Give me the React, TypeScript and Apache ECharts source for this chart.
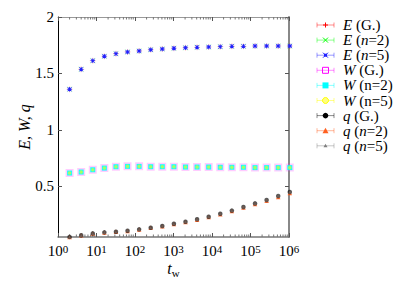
import React, { useEffect, useRef } from "react";
import * as echarts from "echarts";

const tw = [2, 4, 8, 16, 32, 64, 128, 256, 512, 1024, 2048, 4096, 8192, 16384, 32768, 65536, 131072, 262144, 524288, 1048576];

const E_G = [1.359, 1.536, 1.613, 1.652, 1.675, 1.690, 1.699, 1.710, 1.716, 1.723, 1.728, 1.731, 1.734, 1.737, 1.740, 1.740, 1.743, 1.743, 1.743, 1.743];
const E_n2 = [1.359, 1.536, 1.613, 1.652, 1.675, 1.690, 1.699, 1.710, 1.716, 1.723, 1.728, 1.731, 1.734, 1.737, 1.740, 1.740, 1.743, 1.743, 1.743, 1.743];
const E_n5 = [1.359, 1.536, 1.613, 1.652, 1.675, 1.690, 1.699, 1.710, 1.716, 1.723, 1.728, 1.731, 1.734, 1.737, 1.740, 1.740, 1.743, 1.743, 1.743, 1.743];

const W_G = [0.617, 0.626, 0.646, 0.661, 0.673, 0.676, 0.676, 0.673, 0.673, 0.673, 0.670, 0.670, 0.670, 0.668, 0.668, 0.668, 0.665, 0.665, 0.665, 0.665];
const W_n2 = [0.617, 0.626, 0.646, 0.661, 0.673, 0.676, 0.676, 0.673, 0.673, 0.673, 0.670, 0.670, 0.670, 0.668, 0.668, 0.668, 0.665, 0.665, 0.665, 0.665];
const W_n5 = [0.617, 0.626, 0.646, 0.661, 0.673, 0.676, 0.676, 0.673, 0.673, 0.673, 0.670, 0.670, 0.670, 0.668, 0.668, 0.668, 0.665, 0.665, 0.665, 0.665];

const q_G = [0.051, 0.066, 0.082, 0.091, 0.097, 0.105, 0.118, 0.132, 0.147, 0.168, 0.185, 0.207, 0.230, 0.256, 0.284, 0.316, 0.348, 0.378, 0.413, 0.449];
const q_n2 = [0.051, 0.066, 0.081, 0.090, 0.096, 0.104, 0.117, 0.131, 0.146, 0.166, 0.183, 0.204, 0.227, 0.252, 0.280, 0.311, 0.342, 0.371, 0.405, 0.440];
const q_n5 = [0.051, 0.066, 0.082, 0.091, 0.097, 0.105, 0.118, 0.132, 0.147, 0.168, 0.185, 0.207, 0.230, 0.256, 0.284, 0.316, 0.348, 0.378, 0.413, 0.449];

const xMajorTicks = [1, 10, 100, 1000, 10000, 100000, 1000000];
const xMinorTicks = [
  2, 3, 4, 5, 6, 7, 8, 9,
  20, 30, 40, 50, 60, 70, 80, 90,
  200, 300, 400, 500, 600, 700, 800, 900,
  2000, 3000, 4000, 5000, 6000, 7000, 8000, 9000,
  20000, 30000, 40000, 50000, 60000, 70000, 80000, 90000,
  200000, 300000, 400000, 500000, 600000, 700000, 800000, 900000,
];
const yTicks = [0.5, 1, 1.5, 2];
const Y_MIN = 0.05;
const Y_MAX = 2;

const legendLabels = [
  "{i|E} (G.)",
  "{i|E} ({i|n}=2)",
  "{i|E} ({i|n}=5)",
  "{i|W} (G.)",
  "{i|W} (n=2)",
  "{i|W} (n=5)",
  "{i|q} (G.)",
  "{i|q} ({i|n}=2)",
  "{i|q} ({i|n}=5)",
];

const FONT = "Liberation Serif, Times New Roman, serif";

const PLUS = "path://M4,0h2v10h-2z M0,4h10v2h-10z";
const CROSS = "path://M1,0L5,4L9,0L10,1L6,5L10,9L9,10L5,6L1,10L0,9L4,5L0,1z";
const STAR = "path://M4,0h2v10h-2z M0,4h10v2h-10z M1,0L5,4L9,0L10,1L6,5L10,9L9,10L5,6L1,10L0,9L4,5L0,1z";

type SDef = { name: string; data: number[]; color: string; symbol: string; size: number; opacity: number; z: number; legend: string };

const seriesDefs: SDef[] = [
  { name: "E (G.)", data: E_G, color: "#ff0000", symbol: PLUS, size: 6, opacity: 0.2, z: 2, legend: "plus" },
  { name: "E (n=2)", data: E_n2, color: "#00ff00", symbol: CROSS, size: 6, opacity: 0.2, z: 2, legend: "cross" },
  { name: "E (n=5)", data: E_n5, color: "#2020ff", symbol: STAR, size: 4.5, opacity: 1, z: 3, legend: "star" },
  { name: "W (G.)", data: W_G, color: "#ff00ff", symbol: "emptyRect", size: 6, opacity: 0.2, z: 2, legend: "emptyRect" },
  { name: "W (n=2)", data: W_n2, color: "#00ffff", symbol: "rect", size: 5, opacity: 0.9, z: 2, legend: "rect" },
  { name: "W (n=5)", data: W_n5, color: "#ffff00", symbol: "circle", size: 3.5, opacity: 0.6, z: 3, legend: "circle" },
  { name: "q (G.)", data: q_G, color: "#000000", symbol: "circle", size: 4.5, opacity: 0.65, z: 3, legend: "fcircle" },
  { name: "q (n=2)", data: q_n2, color: "#ff6020", symbol: "triangle", size: 4.5, opacity: 0.9, z: 2, legend: "triangle" },
  { name: "q (n=5)", data: q_n5, color: "#808080", symbol: "triangle", size: 3.5, opacity: 0.6, z: 4, legend: "striangle" },
];

function legendMarker(kind: string, cx: number, cy: number, color: string): any[] {
  const s = { stroke: color, lineWidth: 1 };
  switch (kind) {
    case "plus":
      return [
        { type: "line", shape: { x1: cx - 2.5, y1: cy, x2: cx + 2.5, y2: cy }, style: s },
        { type: "line", shape: { x1: cx, y1: cy - 2.5, x2: cx, y2: cy + 2.5 }, style: s },
      ];
    case "cross":
      return [
        { type: "line", shape: { x1: cx - 2.5, y1: cy - 2.5, x2: cx + 2.5, y2: cy + 2.5 }, style: s },
        { type: "line", shape: { x1: cx - 2.5, y1: cy + 2.5, x2: cx + 2.5, y2: cy - 2.5 }, style: s },
      ];
    case "star":
      return [
        { type: "line", shape: { x1: cx - 2.5, y1: cy - 2.5, x2: cx + 2.5, y2: cy + 2.5 }, style: s },
        { type: "line", shape: { x1: cx - 2.5, y1: cy + 2.5, x2: cx + 2.5, y2: cy - 2.5 }, style: s },
        { type: "rect", shape: { x: cx - 1.5, y: cy - 1.5, width: 3, height: 3 }, style: { fill: color } },
      ];
    case "emptyRect":
      return [{ type: "rect", shape: { x: cx - 3, y: cy - 3, width: 6, height: 6 }, style: { fill: "none", stroke: color, lineWidth: 1 } }];
    case "rect":
      return [{ type: "rect", shape: { x: cx - 3, y: cy - 3, width: 6, height: 6 }, style: { fill: color } }];
    case "circle":
      return [{ type: "circle", shape: { cx, cy, r: 3 }, style: { fill: "#ffff80", stroke: color, lineWidth: 1 } }];
    case "fcircle":
      return [{ type: "circle", shape: { cx, cy, r: 2.8 }, style: { fill: color } }];
    case "triangle":
      return [{ type: "polygon", shape: { points: [[cx, cy - 3], [cx + 3, cy + 2.5], [cx - 3, cy + 2.5]] }, style: { fill: color } }];
    case "striangle":
      return [{ type: "polygon", shape: { points: [[cx, cy - 2], [cx + 2, cy + 1.5], [cx - 2, cy + 1.5]] }, style: { fill: color } }];
  }
  return [];
}

export default function App() {
  const ref = useRef<HTMLDivElement>(null);
  useEffect(() => {
    if (!ref.current) return;
    const chart = echarts.init(ref.current, undefined, { renderer: "svg" });

    const LX1 = 317, LX2 = 334, LTX = 343, LY0 = 25, LDY = 15.1;
    const legendGraphics: any[] = [];
    seriesDefs.forEach((d, i) => {
      const y = LY0 + i * LDY;
      const ls = { stroke: d.color, lineWidth: 1, opacity: 0.45 };
      legendGraphics.push(
        { type: "line", shape: { x1: LX1, y1: y, x2: LX2, y2: y }, style: ls },
        { type: "line", shape: { x1: LX1, y1: y - 2.5, x2: LX1, y2: y + 2.5 }, style: ls },
        { type: "line", shape: { x1: LX2, y1: y - 2.5, x2: LX2, y2: y + 2.5 }, style: ls },
        ...legendMarker(d.legend, (LX1 + LX2) / 2, y, d.color),
        {
          type: "text",
          x: LTX,
          y,
          style: {
            text: legendLabels[i],
            fontFamily: FONT,
            fontSize: 15,
            fill: "#000",
            verticalAlign: "middle",
            align: "left",
            rich: { i: { fontStyle: "italic", fontFamily: FONT, fontSize: 15 } },
          },
        }
      );
    });

    const xLabelRich = {
      b: { fontFamily: FONT, fontSize: 15, color: "#000", verticalAlign: "bottom" },
      s: { fontFamily: FONT, fontSize: 11, color: "#000", verticalAlign: "top" },
    };

    const baseX = {
      type: "log",
      logBase: 10,
      min: 1,
      max: 1000000,
      splitLine: { show: false },
    };

    const option: any = {
      animation: false,
      grid: { left: 58, right: 126, top: 17, bottom: 54, containLabel: false },
      xAxis: [
        {
          ...baseX,
          position: "bottom",
          name: "{t|t}{w|w}",
          nameLocation: "middle",
          nameGap: 21,
          nameMoveOverlap: false,
          nameTextStyle: {
            rich: {
              t: { fontFamily: FONT, fontSize: 16, fontStyle: "italic", color: "#000" },
              w: { fontFamily: FONT, fontSize: 11, color: "#000", padding: [9, 0, 0, 0] },
            },
          },
          axisLine: { show: true, lineStyle: { color: "#777", width: 1.5 } },
          axisTick: { show: true, inside: true, length: 4, customValues: xMajorTicks, lineStyle: { color: "#555", width: 1 } },
          axisLabel: {
            show: true,
            margin: 6,
            customValues: xMajorTicks,
            formatter: (v: number) => `{b|10}{s|${Math.round(Math.log10(v))}}`,
            rich: xLabelRich,
          },
        },
        {
          ...baseX,
          position: "top",
          axisLine: { show: true, lineStyle: { color: "#999", width: 1 } },
          axisTick: { show: true, inside: true, length: 4, customValues: xMajorTicks, lineStyle: { color: "#555", width: 1 } },
          axisLabel: { show: false },
        },
      ],
      yAxis: [
        {
          type: "value",
          min: Y_MIN,
          max: Y_MAX,
          position: "left",
          name: "E, W, q",
          nameLocation: "middle",
          nameGap: 26,
          nameMoveOverlap: false,
          nameTextStyle: { fontFamily: FONT, fontSize: 16, fontStyle: "italic", color: "#000" },
          splitLine: { show: false },
          axisLine: { show: true, lineStyle: { color: "#000", width: 1 } },
          axisTick: { show: true, inside: true, length: 4, customValues: yTicks, lineStyle: { color: "#555" } },
          axisLabel: { show: true, margin: 4, customValues: yTicks, fontFamily: FONT, fontSize: 15, color: "#000" },
        },
        {
          type: "value",
          min: Y_MIN,
          max: Y_MAX,
          position: "right",
          splitLine: { show: false },
          axisLine: { show: true, lineStyle: { color: "#888", width: 2 } },
          axisTick: { show: true, inside: true, length: 4, customValues: yTicks, lineStyle: { color: "#555" } },
          axisLabel: { show: false },
        },
      ],
      graphic: legendGraphics,
      series: [
        {
          type: "custom",
          silent: true,
          xAxisIndex: 0,
          yAxisIndex: 0,
          data: xMinorTicks.map((v) => [v, Y_MIN]),
          renderItem: (params: any, api: any) => {
            const v = api.value(0);
            const pb = api.coord([v, Y_MIN]);
            const pt = api.coord([v, Y_MAX]);
            const st = { stroke: "#777", lineWidth: 1 };
            return {
              type: "group",
              children: [
                { type: "line", shape: { x1: pb[0], y1: pb[1], x2: pb[0], y2: pb[1] - 2.5 }, style: st },
                { type: "line", shape: { x1: pt[0], y1: pt[1], x2: pt[0], y2: pt[1] + 2.5 }, style: st },
              ],
            };
          },
        },
        ...seriesDefs.map((d) => ({
          type: "scatter",
          name: d.name,
          xAxisIndex: 0,
          yAxisIndex: 0,
          clip: false,
          z: d.z,
          symbol: d.symbol,
          symbolSize: d.size,
          itemStyle: d.symbol === "emptyRect"
            ? { color: d.color, borderColor: d.color, borderWidth: 1, opacity: d.opacity }
            : { color: d.color, opacity: d.opacity },
          data: tw.map((x, i) => [x, d.data[i]]),
        })),
      ],
    };
    chart.setOption(option);
    return () => chart.dispose();
  }, []);
  return <div ref={ref} style={{ position: "absolute", left: 0, top: 0, width: 415, height: 291, background: "#fff" }} />;
}
